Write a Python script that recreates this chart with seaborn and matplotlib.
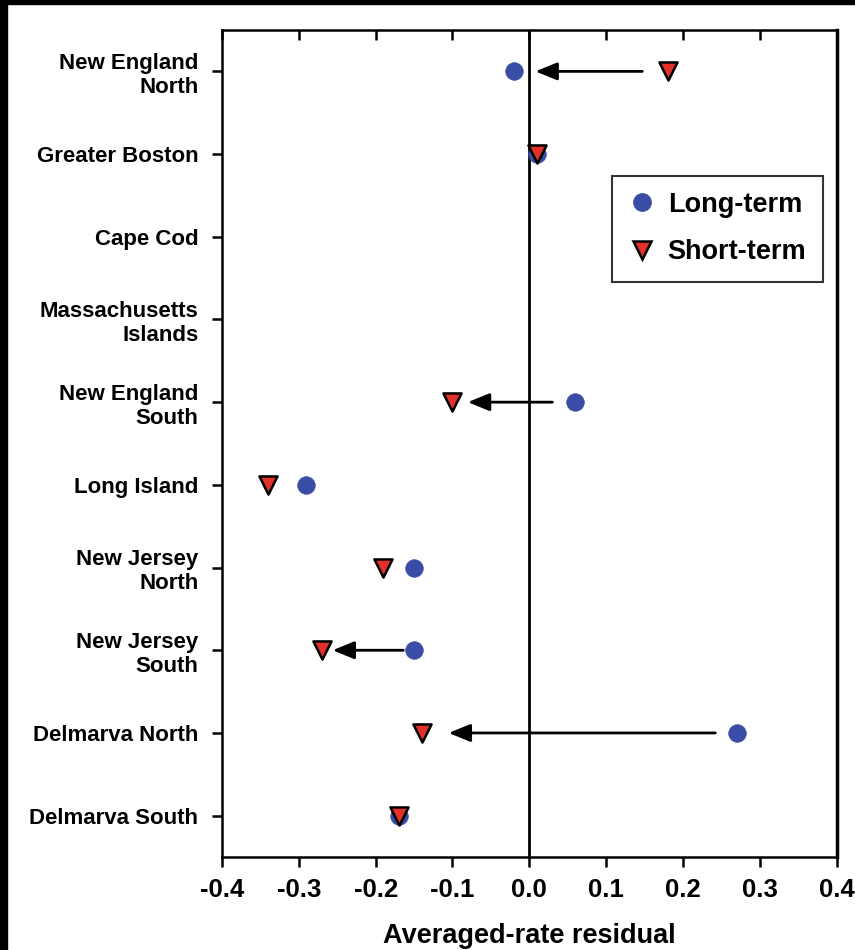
import numpy as np
import pandas as pd
import matplotlib
matplotlib.use("Agg")
import matplotlib.pyplot as plt
import seaborn as sns
from matplotlib.lines import Line2D
from matplotlib.patches import Rectangle

regions = ["New England\nNorth", "Greater Boston", "Cape Cod", "Massachusetts\nIslands",
           "New England\nSouth", "Long Island", "New Jersey\nNorth", "New Jersey\nSouth",
           "Delmarva North", "Delmarva South"]
long_term = [-0.02, 0.01, np.nan, np.nan, 0.06, -0.29, -0.15, -0.15, 0.27, -0.17]
short_term = [0.18, 0.01, np.nan, np.nan, -0.10, -0.34, -0.19, -0.27, -0.14, -0.17]

# arrows (region index, start x, end x)
arrow_rows = [0, 4, 7, 8]
arrow_from = [0.147, 0.030, -0.164, 0.242]
arrow_to = [0.008, -0.080, -0.256, -0.105]

xticks = [-0.4, -0.3, -0.2, -0.1, 0.0, 0.1, 0.2, 0.3, 0.4]
xtick_labels = ["-0.4", "-0.3", "-0.2", "-0.1", "0.0", "0.1", "0.2", "0.3", "0.4"]

sns.set_theme(style="white")
plt.rcParams['font.family'] = ['Liberation Sans', 'DejaVu Sans']
plt.rcParams['font.weight'] = 'bold'
for k in ["text.color", "axes.labelcolor", "xtick.color", "ytick.color", "axes.edgecolor"]:
    plt.rcParams[k] = "black"

df = pd.DataFrame({
    "region": regions * 2,
    "pos": list(range(len(regions))) * 2,
    "value": long_term + short_term,
    "series": ["Long-term"] * len(regions) + ["Short-term"] * len(regions),
})
df = df.dropna()

fig = plt.figure(figsize=(8.55, 9.5), dpi=100)
ax = fig.add_axes([0.2596, 0.0979, 0.7190, 0.8705])

ax.axvline(0, color="black", lw=2, zorder=1)

for r, x0, x1 in zip(arrow_rows, arrow_from, arrow_to):
    ax.annotate("", xy=(x1, r), xytext=(x0, r),
                arrowprops=dict(arrowstyle="-|>,head_length=1.1,head_width=0.45",
                                color="black", lw=2, shrinkA=0, shrinkB=0),
                zorder=2)

blue = "#3A4DA6"
red = "#E2312B"
lt = df[df.series == "Long-term"]
st = df[df.series == "Short-term"]
sns.scatterplot(data=lt, x="value", y="pos", ax=ax, color=blue, marker="o",
                s=160, edgecolor=blue, linewidth=0.5, zorder=3, legend=False)
sns.scatterplot(data=st, x="value", y="pos", ax=ax, color=red, marker="v",
                s=170, edgecolor="black", linewidth=1.8, zorder=4, legend=False)

ax.set_xlim(-0.4, 0.4)
ax.set_ylim(9.5, -0.5)
ax.set_xticks(xticks)
ax.set_xticklabels(xtick_labels, fontsize=18.5, fontweight="bold", color="black")
ax.set_yticks(range(len(regions)))
ax.set_yticklabels(regions, fontsize=16, fontweight="bold", ha="right", color="black")
ax.set_xlabel("Averaged-rate residual", fontsize=19.5, fontweight="bold", labelpad=15,
              color="black")
ax.set_ylabel("")

for s in ax.spines.values():
    s.set_visible(True)
    s.set_color("black")
    s.set_linewidth(1.8)
ax.spines["right"].set_linewidth(2.5)

ax.tick_params(axis="x", bottom=True, top=False, direction="out",
               length=7, width=1.8, color="black", pad=8)
ax.tick_params(axis="y", left=True, right=False, direction="out", length=7,
               width=1.8, color="black", pad=10)
sec = ax.secondary_xaxis("top")
sec.set_xticks(xticks)
sec.set_xticklabels([])
sec.tick_params(direction="in", length=7, width=1.8, color="black")
sec.spines["top"].set_visible(False)

handles = [Line2D([], [], marker="o", ls="", markersize=12.5, markerfacecolor=blue,
                  markeredgecolor=blue),
           Line2D([], [], marker="v", ls="", markersize=12.5, markerfacecolor=red,
                  markeredgecolor="black", markeredgewidth=1.8)]
leg = ax.legend(handles, ["Long-term", "Short-term"], loc="upper right",
                bbox_to_anchor=(0.977, 0.824), frameon=True, fancybox=False,
                prop={"weight": "bold", "size": 19.5},
                borderpad=0.6, handletextpad=0.45, labelspacing=0.8,
                handlelength=1.0, edgecolor="black", markerfirst=True,
                borderaxespad=0, alignment="right")
leg.get_frame().set_linewidth(1.5)

# black border bits at top and left of the image
fig.patches.append(Rectangle((0, 1 - 4 / 950), 1, 4 / 950, transform=fig.transFigure,
                             color="black", zorder=10))
fig.patches.append(Rectangle((0, 0), 7 / 855, 1, transform=fig.transFigure,
                             color="black", zorder=10))

fig.savefig("out.png", dpi=100)
